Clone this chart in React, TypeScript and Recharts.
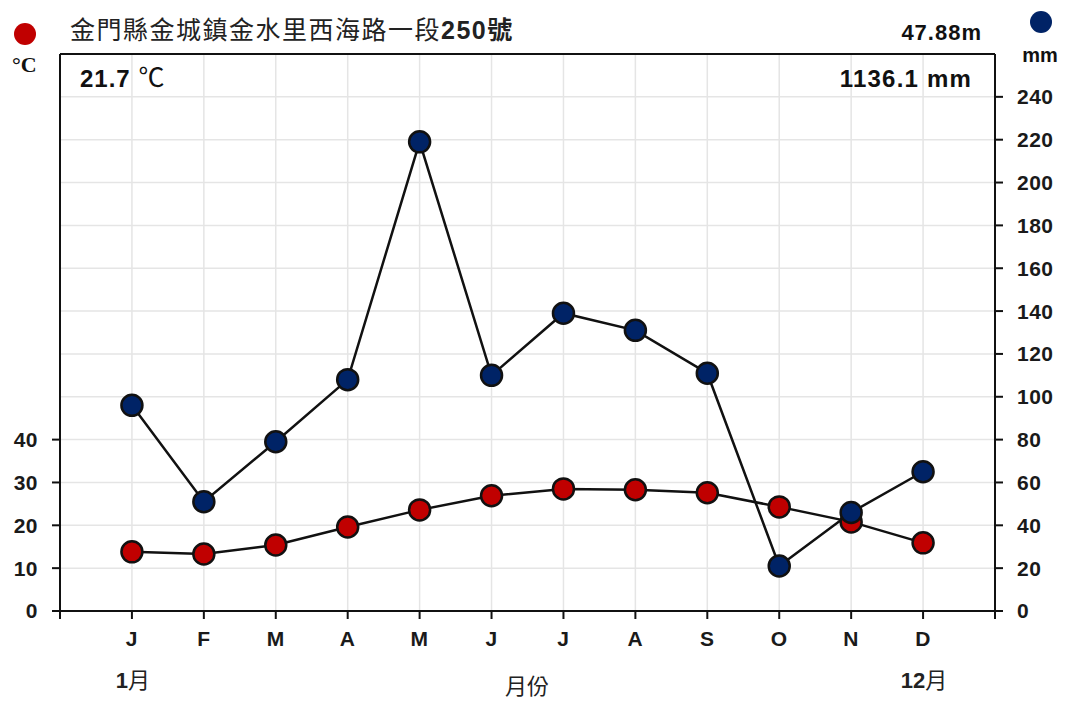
import { ComposedChart, Line, XAxis, YAxis, CartesianGrid, ReferenceLine } from "recharts"

const months = ["J", "F", "M", "A", "M", "J", "J", "A", "S", "O", "N", "D"]
const temperature = [13.8, 13.3, 15.4, 19.6, 23.6, 26.9, 28.5, 28.3, 27.6, 24.3, 20.8, 15.9]
const precipitation = [96, 51, 79, 108, 219, 110, 139, 131, 111, 21, 46, 65]
const tempTicks = [0, 10, 20, 30, 40]
const rainTicks = [0, 20, 40, 60, 80, 100, 120, 140, 160, 180, 200, 220, 240]
const monthTicks = [0, 1, 2, 3, 4, 5, 6, 7, 8, 9, 10, 11, 12, 13]

const data = months.map((m, i) => ({ x: i + 1, month: m, temp: temperature[i], rain: precipitation[i] }))

const RED = "#c00000"
const NAVY = "#002366"
const SANS = "Liberation Sans, Arial, sans-serif"
const CJK = "Noto Sans CJK TC, sans-serif"
const tickStyle = { fill: "#1a1a1a", fontSize: 21, fontWeight: 700, fontFamily: SANS, letterSpacing: 0.5 }

export default function App() {
  return (
    <div style={{ position: "absolute", left: 0, top: 0, width: 1065, height: 701, background: "#fff" }}>
      <ComposedChart width={1065} height={701} data={data} margin={{ top: 54, right: 10, bottom: 50, left: 10 }}>
        <CartesianGrid yAxisId="rain" stroke="#e5e5e5" strokeWidth={1.5} />
        <XAxis
          dataKey="x"
          type="number"
          domain={[0, 13]}
          ticks={monthTicks}
          interval={0}
          tickFormatter={(v: number) => (v >= 1 && v <= 12 ? months[v - 1] : "")}
          tick={tickStyle}
          tickSize={8}
          tickMargin={12}
          height={40}
          stroke="#111"
          strokeWidth={2}
        />
        <YAxis
          yAxisId="temp"
          domain={[0, 130]}
          ticks={tempTicks}
          interval={0}
          tick={tickStyle}
          tickSize={8}
          tickMargin={14}
          width={50}
          stroke="#111"
          strokeWidth={2}
        />
        <YAxis
          yAxisId="rain"
          orientation="right"
          domain={[0, 260]}
          ticks={rainTicks}
          interval={0}
          tick={tickStyle}
          tickSize={8}
          tickMargin={14}
          width={60}
          stroke="#111"
          strokeWidth={2}
        />
        <ReferenceLine yAxisId="rain" y={260} stroke="#111" strokeWidth={2} />
        <Line
          yAxisId="temp"
          dataKey="temp"
          type="linear"
          stroke="#111"
          strokeWidth={2.5}
          dot={{ r: 10.5, fill: RED, stroke: "#111", strokeWidth: 2.5 }}
          isAnimationActive={false}
        />
        <Line
          yAxisId="rain"
          dataKey="rain"
          type="linear"
          stroke="#111"
          strokeWidth={2.5}
          dot={{ r: 10.5, fill: NAVY, stroke: "#111", strokeWidth: 2.5 }}
          isAnimationActive={false}
        />
      </ComposedChart>
      <svg
        width={1065}
        height={701}
        style={{ position: "absolute", left: 0, top: 0, pointerEvents: "none" }}
      >
        <circle cx={25} cy={34} r={11} fill={RED} />
        <circle cx={1041} cy={22} r={11} fill={NAVY} />
        <text x={70} y={39} fontSize={25} fill="#222" fontFamily={CJK} letterSpacing={1.5}>
          金門縣金城鎮金水里西海路一段<tspan fontWeight={700} fontFamily={SANS}>250</tspan>
          <tspan fontWeight={700}>號</tspan>
        </text>
        <text x={12} y={72} fontSize={22} fontWeight={700} fill="#111" fontFamily="Liberation Serif, serif">
          °C
        </text>
        <text x={80} y={87} fontSize={24} fontWeight={700} fill="#111" fontFamily={SANS} letterSpacing={1}>
          21.7 <tspan fontWeight={400} fontSize={26} fontFamily={CJK}>℃</tspan>
        </text>
        <text x={982} y={40} textAnchor="end" fontSize={22} fontWeight={700} fill="#111" fontFamily={SANS} letterSpacing={1}>
          47.88m
        </text>
        <text x={1040} y={62} textAnchor="middle" fontSize={20} fontWeight={700} fill="#111" fontFamily={SANS}>
          mm
        </text>
        <text x={972} y={87} textAnchor="end" fontSize={24} fontWeight={700} fill="#111" fontFamily={SANS} letterSpacing={1.2}>
          1136.1 mm
        </text>
        <text x={133} y={688} textAnchor="middle" fontSize={22} fill="#222" fontFamily={CJK}>
          <tspan fontWeight={700} fontFamily={SANS}>1</tspan>月
        </text>
        <text x={924} y={688} textAnchor="middle" fontSize={22} fill="#222" fontFamily={CJK}>
          <tspan fontWeight={700} fontFamily={SANS}>12</tspan>月
        </text>
        <text x={527} y={694} textAnchor="middle" fontSize={22} fill="#222" fontFamily={CJK}>
          月份
        </text>
      </svg>
    </div>
  )
}
